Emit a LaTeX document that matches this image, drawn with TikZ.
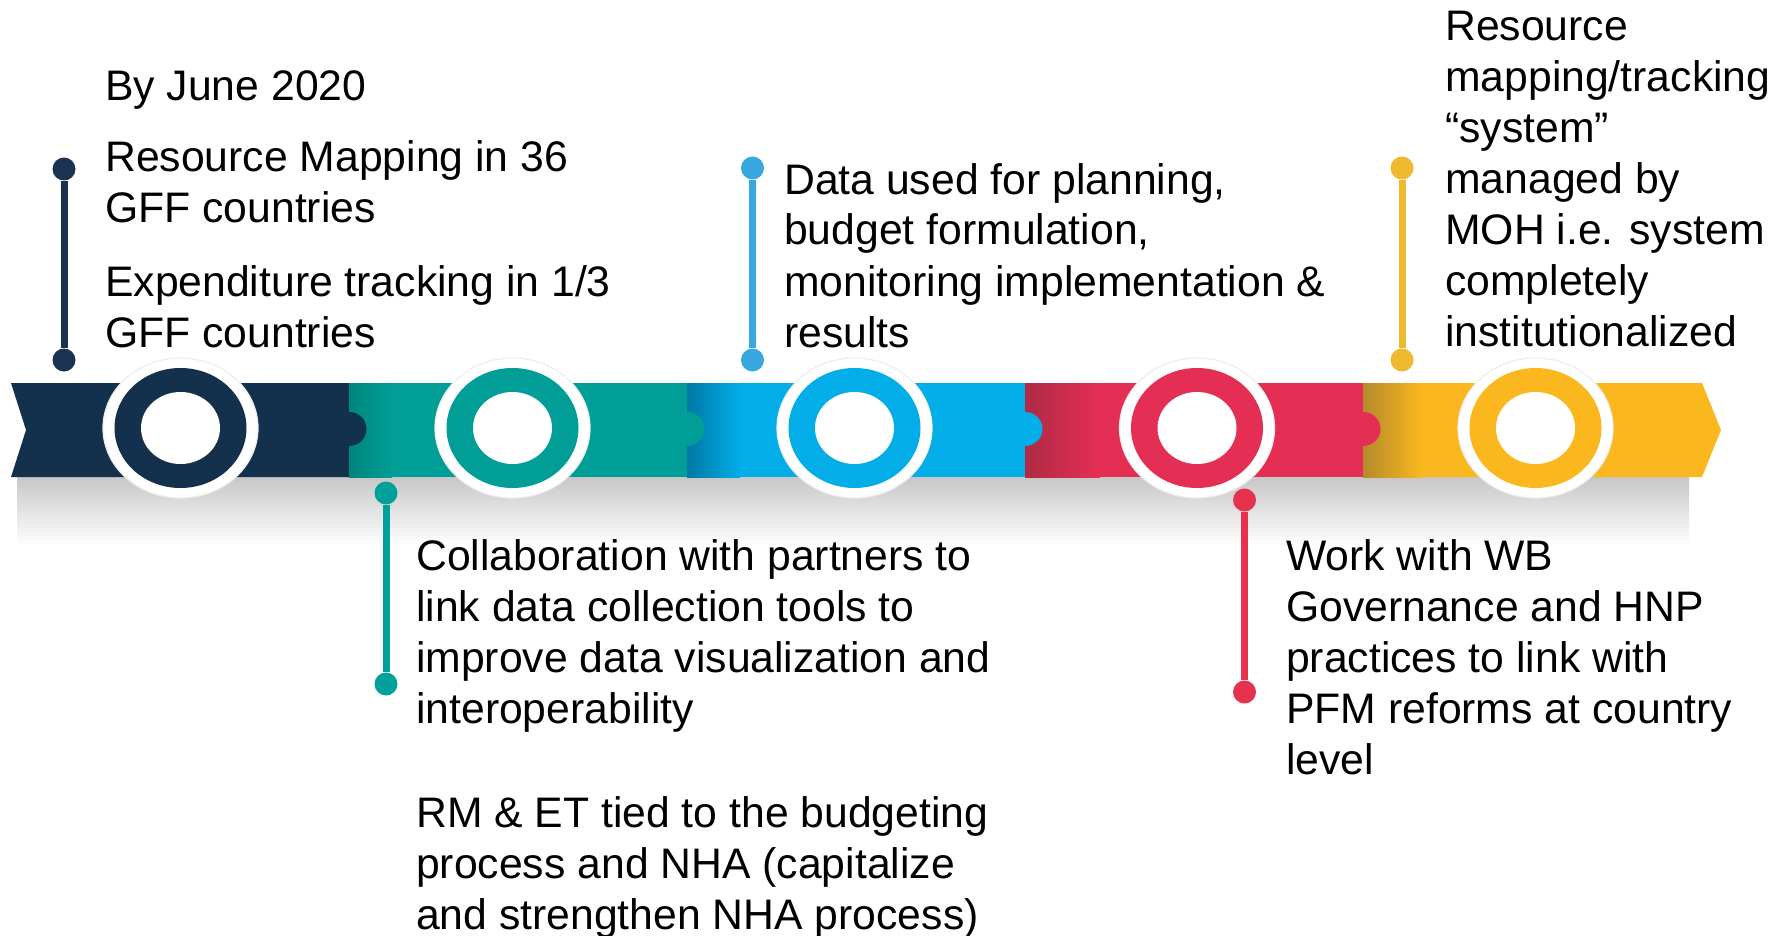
\documentclass[tikz,border=0pt]{standalone}
\usepackage{fontspec}
\setmainfont{Liberation Sans}
\definecolor{navy}{HTML}{13304C}
\definecolor{navystk}{HTML}{1B3350}
\definecolor{teal1}{HTML}{009E96}
\definecolor{teal0}{HTML}{00857A}
\definecolor{tealstk}{HTML}{00A19A}
\definecolor{blue1}{HTML}{03AEE8}
\definecolor{blue0}{HTML}{0078A6}
\definecolor{bluestk}{HTML}{3AA8E0}
\definecolor{red1}{HTML}{E52E53}
\definecolor{red0}{HTML}{B02A45}
\definecolor{redstk}{HTML}{E6314F}
\definecolor{yel1}{HTML}{FBB81E}
\definecolor{yel0}{HTML}{B58A2C}
\definecolor{yelstk}{HTML}{EEB92E}
\tikzset{
  txt/.style={anchor=base west, inner sep=0pt, font=\fontsize{42.7}{51}\selectfont, text=black},
  dot/.style={circle, fill=#1, inner sep=0pt, minimum size=23pt},
  stick/.style={draw=#1, line width=7pt},
}
\newcommand{\ringat}[2]{%
  \fill[white, draw=black!7, line width=1.2pt] (#1,428) ellipse [x radius=77.5pt, y radius=70pt];
  \fill[#2] (#1,428) ellipse [x radius=66pt, y radius=60pt];
  \fill[white] (#1,428) ellipse [x radius=39.5pt, y radius=36pt];
}
\begin{document}
\begin{tikzpicture}[x=1pt,y=-1pt]
\useasboundingbox (0,0) rectangle (1787,936);
% shadow under ribbon
\shade[top color=black!22, bottom color=white] (17,477) rectangle (1689,545);
% segment 1
\fill[navy] (11,383) -- (349,383) -- (349,477) -- (11,477) -- (26,430) -- cycle;
% segment 2
\fill[teal1] (349,383) rectangle (687,477);
\shade[left color=teal0, right color=teal1] (349,383) rectangle (392,477);
% segment 3
\fill[blue1] (687,383) rectangle (1025,477);
\shade[left color=blue0, right color=blue1] (687,383) rectangle (740,477);
% segment 4
\fill[red1] (1025,383) rectangle (1363,477);
\shade[left color=red0, right color=red1] (1025,383) rectangle (1100,477);
% segment 5
\fill[yel1] (1363,383) -- (1702,383) -- (1721,430) -- (1702,477) -- (1363,477) -- cycle;
\shade[left color=yel0, right color=yel1] (1363,383) rectangle (1422,477);
% tabs
\fill[navy] (349,429) ellipse [x radius=17.5pt, y radius=17pt];
\fill[teal1] (687,429) ellipse [x radius=17.5pt, y radius=17pt];
\fill[blue1] (1025,429) ellipse [x radius=17.5pt, y radius=17pt];
\fill[red1] (1363,429) ellipse [x radius=17.5pt, y radius=17pt];
% rings
\ringat{180.5}{navy}
\ringat{512.5}{teal1}
\ringat{854.5}{blue1}
\ringat{1197}{red1}
\ringat{1535.5}{yel1}
% sticks
\node[dot=navystk] (n1) at (64,169) {};
\node[dot=navystk] (n2) at (64,360) {};
\draw[stick=navystk] (n1) -- (n2);
\node[dot=bluestk] (b1) at (752.5,168) {};
\node[dot=bluestk] (b2) at (752.5,360) {};
\draw[stick=bluestk] (b1) -- (b2);
\node[dot=yelstk] (y1) at (1402,168) {};
\node[dot=yelstk] (y2) at (1402,360) {};
\draw[stick=yelstk] (y1) -- (y2);
\node[dot=tealstk] (t1) at (386,493) {};
\node[dot=tealstk] (t2) at (386,684) {};
\draw[stick=tealstk] (t1) -- (t2);
\node[dot=redstk] (r1) at (1244.5,500) {};
\node[dot=redstk] (r2) at (1244.5,692) {};
\draw[stick=redstk] (r1) -- (r2);
% texts
\node[txt] (tjune) at (105,101) {By June 2020};
\node[txt] (trm) at (105,172) {\begin{tabular}[t]{@{}l@{}}Resource Mapping in 36\\GFF countries\end{tabular}};
\node[txt] (tet) at (105,296) {\begin{tabular}[t]{@{}l@{}}Expenditure tracking in 1/3\\GFF countries\end{tabular}};
\node[txt] (tdata) at (784,194) {\begin{tabular}[t]{@{}l@{}}Data used for planning,\\budget formulation,\\monitoring implementation \&\\results\end{tabular}};
\node[txt] (tsys) at (1445,41) {\begin{tabular}[t]{@{}l@{}}Resource\\mapping/tracking\\“system”\\managed by\\MOH i.e. system\\completely\\institutionalized\end{tabular}};
\node[txt] (tcol) at (416,570) {\begin{tabular}[t]{@{}l@{}}Collaboration with partners to\\link data collection tools to\\improve data visualization and\\interoperability\end{tabular}};
\node[txt] (tnha) at (416,827) {\begin{tabular}[t]{@{}l@{}}RM \& ET tied to the budgeting\\process and NHA (capitalize\\and strengthen NHA process)\end{tabular}};
\node[txt] (twb) at (1286,570) {\begin{tabular}[t]{@{}l@{}}Work with WB\\Governance and HNP\\practices to link with\\PFM reforms at country\\level\end{tabular}};
\end{tikzpicture}
\end{document}
